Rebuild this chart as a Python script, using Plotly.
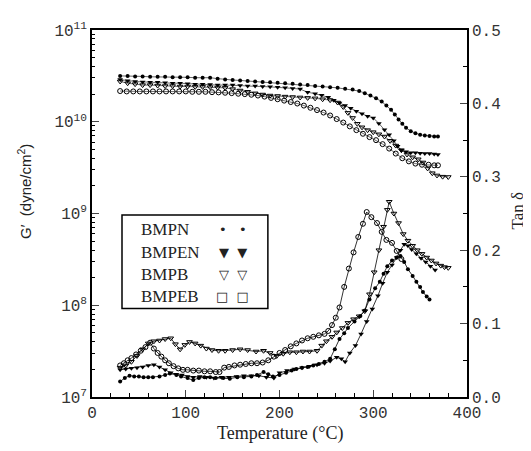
import plotly.graph_objects as go

# ---- G' (storage modulus), left log axis ----
t_g_bmpn = [30, 38, 46, 54, 62, 70, 78, 86, 94, 102, 110, 118, 126, 134, 142, 150, 158, 166, 174, 182,
            190, 198, 206, 214, 222, 230, 238, 246, 254, 262, 270, 278, 285, 291, 297, 303, 309, 314, 319, 323,
            327, 331, 335, 340, 345, 350, 355, 360, 365, 369]
g_bmpn = [3.16e10, 3.16e10, 3.12e10, 3.12e10, 3.09e10, 3.09e10, 3.09e10, 3.05e10, 3.05e10, 3.05e10,
          3.02e10, 3.02e10, 3.02e10, 2.95e10, 2.88e10, 2.85e10, 2.82e10, 2.78e10, 2.75e10, 2.72e10,
          2.69e10, 2.66e10, 2.63e10, 2.60e10, 2.54e10, 2.51e10, 2.45e10, 2.42e10, 2.38e10, 2.34e10,
          2.29e10, 2.24e10, 2.16e10, 2.05e10, 1.93e10, 1.80e10, 1.66e10, 1.50e10, 1.35e10, 1.20e10,
          1.06e10, 9.5e9, 8.6e9, 7.9e9, 7.5e9, 7.2e9, 7.1e9, 7.0e9, 6.9e9, 6.9e9]

t_g_bmpen = [30, 38, 46, 54, 62, 70, 78, 86, 94, 102, 110, 118, 126, 134, 142, 150, 158, 166, 174, 182,
             190, 198, 206, 214, 222, 230, 238, 245, 252, 258, 264, 270, 276, 282, 288, 294, 300, 306, 312, 317,
             322, 326, 330, 335, 340, 345, 350, 355, 360, 365, 369]
g_bmpen = [2.88e10, 2.80e10, 2.75e10, 2.72e10, 2.69e10, 2.69e10, 2.66e10, 2.63e10, 2.63e10, 2.60e10,
           2.57e10, 2.57e10, 2.54e10, 2.51e10, 2.51e10, 2.51e10, 2.48e10, 2.45e10, 2.45e10, 2.42e10,
           2.40e10, 2.38e10, 2.34e10, 2.31e10, 2.27e10, 2.10e10, 2.02e10, 1.95e10, 1.85e10, 1.72e10,
           1.60e10, 1.50e10, 1.40e10, 1.30e10, 1.22e10, 1.15e10, 1.10e10, 9.6e9, 8.2e9, 7.2e9,
           6.2e9, 5.4e9, 4.9e9, 4.7e9, 4.6e9, 4.6e9, 4.55e9, 4.5e9, 4.5e9, 4.45e9, 4.4e9]

t_g_bmpb = [30, 38, 46, 54, 62, 70, 78, 86, 94, 102, 110, 118, 126, 134, 142, 150, 158, 166, 174, 182,
            190, 198, 206, 214, 222, 230, 238, 246, 254, 262, 268, 273, 278, 283, 288, 294, 300, 306, 312, 318,
            324, 330, 336, 342, 348, 353, 358, 363, 368, 374, 380]
g_bmpb = [2.75e10, 2.63e10, 2.57e10, 2.51e10, 2.51e10, 2.48e10, 2.45e10, 2.45e10, 2.42e10, 2.42e10,
          2.40e10, 2.40e10, 2.38e10, 2.36e10, 2.34e10, 2.27e10, 2.19e10, 2.12e10, 2.04e10, 1.98e10,
          1.93e10, 1.91e10, 1.88e10, 1.86e10, 1.84e10, 1.82e10, 1.80e10, 1.76e10, 1.72e10, 1.62e10,
          1.45e10, 1.25e10, 1.10e10, 9.5e9, 8.7e9, 8.1e9, 7.7e9, 7.3e9, 6.9e9, 6.2e9,
          5.5e9, 4.9e9, 4.4e9, 4.1e9, 3.9e9, 3.6e9, 3.1e9, 2.75e9, 2.6e9, 2.52e9, 2.5e9]

t_g_bmpeb = [30, 37, 44, 51, 58, 65, 72, 79, 86, 93, 100, 107, 114, 121, 128, 135, 142, 149, 156, 163,
             170, 177, 184, 191, 198, 205, 212, 219, 226, 233, 240, 247, 254, 261, 268, 275, 282, 289, 296, 303,
             310, 317, 324, 331, 338, 345, 352, 359, 365, 369]
g_bmpeb = [2.16e10, 2.14e10, 2.14e10, 2.14e10, 2.14e10, 2.14e10, 2.14e10, 2.14e10, 2.14e10, 2.14e10,
           2.14e10, 2.12e10, 2.12e10, 2.12e10, 2.10e10, 2.09e10, 2.07e10, 2.05e10, 2.02e10, 2.00e10,
           1.97e10, 1.93e10, 1.88e10, 1.82e10, 1.76e10, 1.70e10, 1.64e10, 1.58e10, 1.50e10, 1.42e10,
           1.34e10, 1.26e10, 1.17e10, 1.07e10, 9.8e9, 8.9e9, 8.1e9, 7.4e9, 6.8e9, 6.3e9,
           5.7e9, 5.1e9, 4.5e9, 4.0e9, 3.7e9, 3.5e9, 3.4e9, 3.4e9, 3.35e9, 3.35e9]

# ---- tan delta, right linear axis ----
t_d_bmpn = [30, 35, 40, 45, 50, 55, 60, 65, 72, 78, 83, 90, 95, 102, 108, 114, 120, 126, 132, 140,
            147, 155, 162, 170, 176, 183, 188, 193, 200, 207, 213, 218, 224, 230, 236, 242, 248, 254, 259, 264,
            269, 273, 280, 286, 291, 296, 302, 307, 311, 315, 320, 325, 329, 333, 337, 342, 346, 350, 353, 357, 360]
d_bmpn = [0.021, 0.026, 0.029, 0.028, 0.028, 0.027, 0.027, 0.027, 0.028, 0.030, 0.032, 0.030, 0.028, 0.026,
          0.023, 0.026, 0.027, 0.027, 0.026, 0.026, 0.025, 0.027, 0.027, 0.028, 0.030, 0.034, 0.031, 0.028,
          0.030, 0.033, 0.036, 0.038, 0.040, 0.041, 0.043, 0.045, 0.048, 0.052, 0.065, 0.079, 0.087, 0.094,
          0.103, 0.110, 0.118, 0.133, 0.148, 0.157, 0.168, 0.178, 0.186, 0.190, 0.192, 0.184, 0.174, 0.165,
          0.157, 0.150, 0.143, 0.137, 0.133]

t_d_bmpen = [30, 36, 42, 48, 54, 60, 66, 72, 78, 84, 90, 96, 102, 108, 115, 122, 130, 138, 146, 154,
             162, 170, 178, 186, 194, 200, 208, 216, 224, 232, 240, 248, 254, 261, 266, 270, 275, 281, 287, 293,
             299, 305, 310, 315, 320, 325, 329, 333, 337, 341, 346, 351, 356, 361, 366]
d_bmpen = [0.037, 0.038, 0.039, 0.040, 0.041, 0.043, 0.044, 0.041, 0.037, 0.033, 0.031, 0.030, 0.028, 0.027,
           0.028, 0.027, 0.026, 0.027, 0.027, 0.028, 0.029, 0.029, 0.029, 0.027, 0.026, 0.033, 0.036, 0.038,
           0.040, 0.042, 0.044, 0.046, 0.049, 0.054, 0.052, 0.048, 0.060, 0.070, 0.086, 0.103, 0.120, 0.138,
           0.155, 0.170, 0.180, 0.190, 0.200, 0.208, 0.206, 0.201, 0.195, 0.189, 0.184, 0.178, 0.173]

t_d_bmpb = [30, 36, 42, 48, 54, 60, 66, 72, 78, 84, 89, 94, 99, 104, 110, 116, 122, 128, 135, 142,
            150, 158, 166, 175, 183, 190, 197, 204, 211, 218, 225, 232, 240, 245, 250, 256, 261, 267, 273, 279,
            285, 291, 296, 301, 306, 311, 315, 317, 322, 327, 332, 337, 342, 347, 352, 357, 362, 367, 372, 376, 380]
d_bmpb = [0.040, 0.043, 0.048, 0.056, 0.065, 0.073, 0.076, 0.077, 0.079, 0.080, 0.072, 0.065, 0.071, 0.075,
          0.073, 0.070, 0.066, 0.064, 0.063, 0.063, 0.064, 0.065, 0.064, 0.062, 0.063, 0.060, 0.056, 0.059,
          0.061, 0.061, 0.062, 0.062, 0.063, 0.070, 0.076, 0.082, 0.088, 0.094, 0.101, 0.106, 0.110, 0.117,
          0.140, 0.170, 0.200, 0.232, 0.255, 0.266, 0.250, 0.237, 0.222, 0.213, 0.206, 0.200, 0.195, 0.190,
          0.186, 0.182, 0.179, 0.177, 0.176]

t_d_bmpeb = [30, 34, 38, 42, 47, 52, 57, 62, 66, 70, 74, 78, 82, 87, 92, 97, 102, 108, 114, 120,
             126, 132, 136, 141, 146, 152, 158, 164, 170, 176, 182, 188, 194, 200, 206, 212, 218, 224, 230, 236,
             242, 248, 252, 256, 260, 264, 269, 274, 279, 284, 289, 293, 298, 304, 309, 314, 320, 325, 330]
d_bmpeb = [0.043, 0.046, 0.050, 0.053, 0.058, 0.063, 0.068, 0.074, 0.066, 0.060, 0.055, 0.050, 0.046, 0.042,
           0.039, 0.037, 0.037, 0.036, 0.036, 0.035, 0.035, 0.034, 0.034, 0.040, 0.041, 0.043, 0.044, 0.045,
           0.046, 0.046, 0.047, 0.050, 0.055, 0.060, 0.064, 0.069, 0.073, 0.077, 0.080, 0.082, 0.084, 0.086,
           0.090, 0.098, 0.108, 0.122, 0.150, 0.175, 0.197, 0.218, 0.236, 0.252, 0.245, 0.237, 0.225, 0.214,
           0.210, 0.199, 0.188]

names = ["BMPN", "BMPEN", "BMPB", "BMPEB"]
legend_marks = ["\u2022   \u2022", "\u25BC  \u25BC", "\u25BD  \u25BD", "\u25A1  \u25A1"]

y_tickvals = [1e7, 1e8, 1e9, 1e10, 1e11]
y_ticktext = ["10<sup>7</sup>", "10<sup>8</sup>", "10<sup>9</sup>", "10<sup>10</sup>", "10<sup>11</sup>"]
# minor ticks 2..9 inside each decade
y_minor = [m * 10 ** e for e in range(7, 11) for m in range(2, 10)]

styles = {
    "BMPN": dict(symbol="circle", size=4, color="black"),
    "BMPEN": dict(symbol="triangle-down", size=5, color="black"),
    "BMPB": dict(symbol="triangle-down-open", size=5, color="black", line=dict(width=1)),
    "BMPEB": dict(symbol="circle-open", size=5, color="black", line=dict(width=1)),
}

fig = go.Figure()

g_sets = [(t_g_bmpn, g_bmpn), (t_g_bmpen, g_bmpen), (t_g_bmpb, g_bmpb), (t_g_bmpeb, g_bmpeb)]
d_sets = [(t_d_bmpn, d_bmpn), (t_d_bmpen, d_bmpen), (t_d_bmpb, d_bmpb), (t_d_bmpeb, d_bmpeb)]

for name, (tx, gy) in zip(names, g_sets):
    fig.add_trace(go.Scatter(x=tx, y=gy, mode="lines+markers", name=name,
                             marker=styles[name], line=dict(color="black", width=0.6),
                             yaxis="y", showlegend=False))

for name, (tx, dy) in zip(names, d_sets):
    fig.add_trace(go.Scatter(x=tx, y=dy, mode="lines+markers", name=name,
                             marker=styles[name], line=dict(color="black", width=0.8),
                             yaxis="y2", showlegend=False))

tick_font = dict(family="Liberation Mono", size=16, color="#333")

# page body has an 8px margin, so the figure is 8px smaller and margins are trimmed
fig.update_layout(
    width=523, height=443,
    margin=dict(l=84, r=64, t=16, b=54),
    paper_bgcolor="white", plot_bgcolor="white",
    xaxis=dict(range=[0, 400], dtick=100, ticks="inside", ticklen=7, tickwidth=1.2,
               showline=True, linecolor="black", linewidth=1.5, mirror=True,
               showgrid=False, zeroline=False, tickfont=tick_font,
               minor=dict(dtick=20, ticks="inside", ticklen=4, tickcolor="black")),
    yaxis=dict(type="log", range=[7, 11], tickvals=y_tickvals, ticktext=y_ticktext,
               ticks="inside", ticklen=7, showline=True, linecolor="black", linewidth=1.5,
               showgrid=False, zeroline=False, tickfont=tick_font,
               minor=dict(tickmode="array", tickvals=y_minor, ticks="inside", ticklen=3,
                          tickcolor="black", showgrid=False)),
    yaxis2=dict(overlaying="y", side="right", range=[0, 0.5], dtick=0.1, tickformat=".1f",
                ticks="inside", ticklen=7, showline=True, linecolor="black", linewidth=1.5,
                showgrid=False, zeroline=False, tickfont=tick_font,
                minor=dict(dtick=0.05, ticks="inside", ticklen=4, tickcolor="black")),
)

# axis titles
fig.add_annotation(text="Temperature (\u00B0C)", xref="paper", yref="paper", x=0.5, y=-0.1,
                   xanchor="center", yanchor="middle", showarrow=False,
                   font=dict(family="Liberation Serif", size=18, color="#222"))
fig.add_annotation(text="G\u2032  (dyne/cm<sup>2</sup>)", xref="paper", yref="paper", x=-0.18, y=0.56,
                   xanchor="center", yanchor="middle", textangle=-90, showarrow=False,
                   font=dict(family="Liberation Sans", size=15, color="#222"))
fig.add_annotation(text="Tan \u03B4", xref="paper", yref="paper", x=1.135, y=0.507,
                   xanchor="center", yanchor="middle", textangle=-90, showarrow=False,
                   font=dict(family="Liberation Serif", size=17, color="#222"))

# legend box drawn by hand (text first, then markers)
fig.add_shape(type="rect", xref="paper", yref="paper", x0=0.08, x1=0.469, y0=0.241, y1=0.496,
              line=dict(color="black", width=1.5), fillcolor="white")
leg_y = [0.456, 0.393, 0.334, 0.275]
for name, mark, yy in zip(names, legend_marks, leg_y):
    fig.add_annotation(text=name, xref="paper", yref="paper", x=0.125, y=yy,
                       xanchor="left", yanchor="middle",
                       showarrow=False, font=dict(family="Liberation Serif", size=17, color="#222"))
    fig.add_annotation(text=mark, xref="paper", yref="paper", x=0.375, y=yy,
                       xanchor="center", yanchor="middle",
                       showarrow=False, font=dict(family="DejaVu Sans", size=13, color="#222"))

fig.write_html("out.html")
